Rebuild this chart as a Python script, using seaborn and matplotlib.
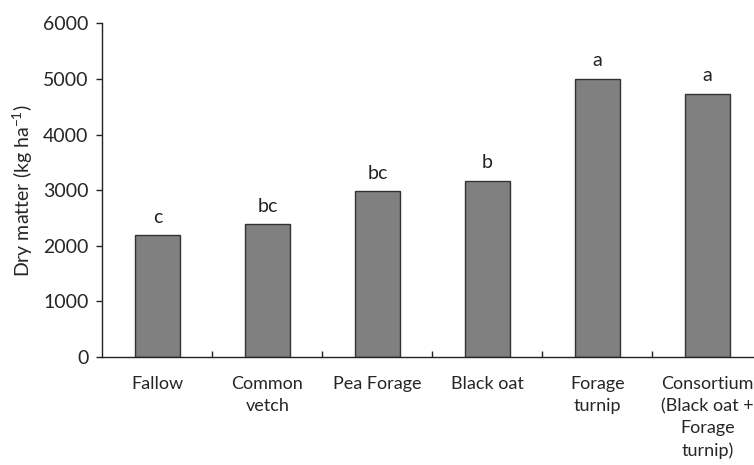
import numpy as np
import pandas as pd
import matplotlib
matplotlib.use("Agg")
import matplotlib.pyplot as plt
import seaborn as sns

# data
treatments = ["Fallow", "Common\nvetch", "Pea Forage", "Black oat", "Forage\nturnip",
              "Consortium\n(Black oat +\nForage\nturnip)"]
dry_matter = [2190, 2390, 2980, 3170, 5010, 4740]
letters = ["c", "bc", "bc", "b", "a", "a"]

sns.set_style("white")
plt.rcParams["font.family"] = ["Lato", "DejaVu Sans"]

df = pd.DataFrame({"treatment": treatments, "dm": dry_matter})

fig = plt.figure(figsize=(7.54, 4.65), dpi=100)
ax = fig.add_axes([102.5 / 754, 108 / 465, 660 / 754, 333.5 / 465])

sns.barplot(data=df, x="treatment", y="dm", color="#808080", saturation=1,
            width=0.41, edgecolor="#333333", linewidth=1.0, ax=ax)

for i, (v, l) in enumerate(zip(dry_matter, letters)):
    ax.text(i, v + 170, l, ha="center", va="bottom", fontsize=14, color="#222222")

ax.set_xlim(-0.5, 5.5)
ax.set_ylim(0, 6000)
ax.set_yticks(np.arange(0, 6001, 1000))
ax.set_xlabel("")
ax.set_ylabel("Dry matter (kg ha$^{\\mathregular{-1}}$)", fontsize=14, labelpad=6)
ax.set_xticks(np.arange(0.5, 5, 1), minor=True)

for s in ["top", "right"]:
    ax.spines[s].set_visible(False)
for s in ["left", "bottom"]:
    ax.spines[s].set_color("#222222")
    ax.spines[s].set_linewidth(1.0)

ax.tick_params(axis="y", direction="out", length=4, width=1, color="#222222",
               labelsize=14, pad=6, left=True)
ax.tick_params(axis="x", which="both", direction="in", length=4, width=1,
               color="#222222", bottom=True)
ax.tick_params(axis="x", which="major", labelsize=13, pad=14)
for t in ax.get_xticklabels():
    t.set_linespacing(1.45)

fig.savefig("out.png", dpi=100)
